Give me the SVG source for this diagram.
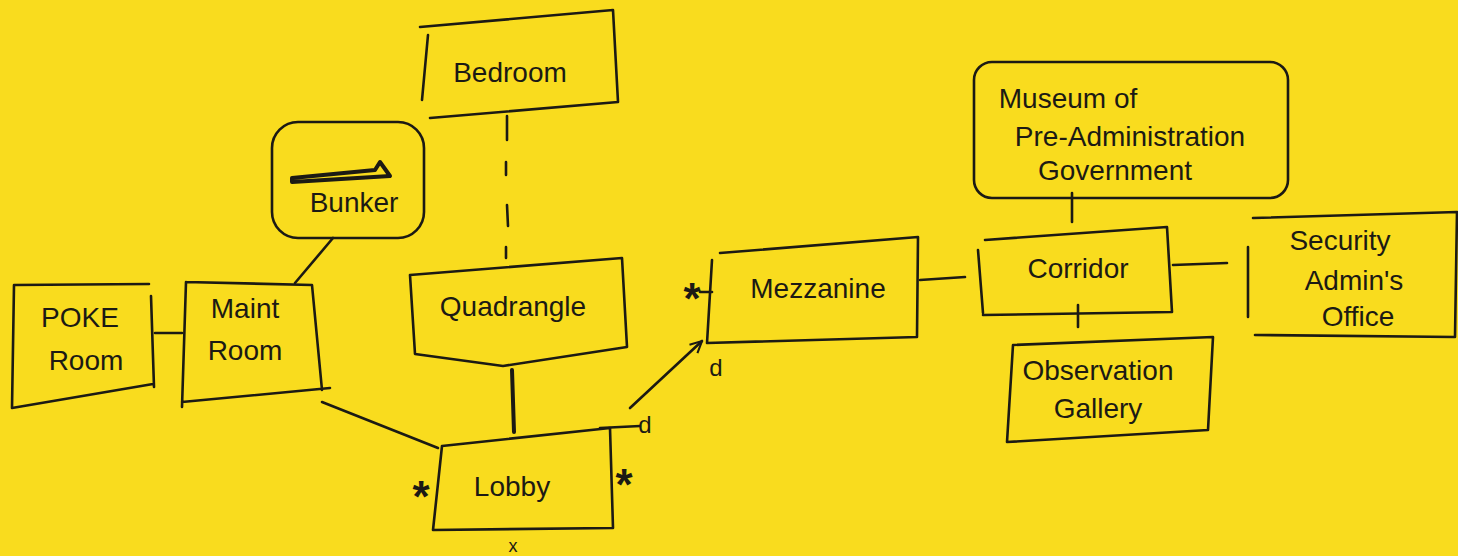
<svg xmlns="http://www.w3.org/2000/svg" width="1458" height="556" viewBox="0 0 1458 556">
<style>
.s{fill:none;stroke:#1c1a14;stroke-width:2.6;stroke-linecap:round;stroke-linejoin:round}
.t{font-family:"Liberation Sans",Arial,sans-serif;font-size:28px;fill:#1c1a14;text-anchor:middle}
.m{font-family:"Liberation Sans",Arial,sans-serif;font-size:44px;font-weight:bold;fill:#1c1a14;text-anchor:middle}
.l{font-family:"Liberation Sans",Arial,sans-serif;font-size:24px;fill:#1c1a14;text-anchor:middle}
</style>
<defs>
<marker id="ah" viewBox="0 0 12 12" refX="11" refY="6" markerWidth="14" markerHeight="14" markerUnits="userSpaceOnUse" orient="auto">
<path d="M1,1 L11,6 L1,11" fill="none" stroke="#1c1a14" stroke-width="1.8"/>
</marker>
</defs>
<rect width="1458" height="556" fill="#f9dc1e"/>

<g id="connectors">
<path class="s" d="M155,333 L182,333"/>
<path class="s" d="M333,238 L295,283"/>
<path class="s" d="M322,402 L438,448"/>
<path class="s" d="M507,116 L507,140 M506,162 L506,175 M507,205 L508,226 M506,247 L506,258"/>
<path class="s" style="stroke-width:4" d="M512,370 L514,432"/>
<path class="s" d="M630,408 L702,341" marker-end="url(#ah)"/>
<path class="s" d="M600,428 L640,426"/>
<path class="s" d="M920,280 L965,277"/>
<path class="s" d="M1072,193 L1072,222"/>
<path class="s" d="M1173,265 L1227,263"/>
<path class="s" d="M1078,305 L1078,327"/>
</g>

<g id="poke-room">
<path class="s" d="M14,285 L149,284 M151,296 L154,387 M12,408 L153,384 M14,285 L12,408"/>
<text class="t" x="80" y="327">POKE</text>
<text class="t" x="86" y="370">Room</text>
</g>

<g id="maint-room">
<path class="s" d="M186,282 L312,285 L322,390 M182,402 L330,388 M186,282 L182,407"/>
<text class="t" x="245" y="318">Maint</text>
<text class="t" x="245" y="360">Room</text>
</g>

<g id="bunker">
<rect class="s" x="272" y="122" width="152" height="116" rx="26"/>
<path class="s" style="stroke-width:4" d="M292,178 L375,170 L380,162 L390,176 L292,182 Z"/>
<text class="t" x="354" y="212">Bunker</text>
</g>

<g id="bedroom">
<path class="s" d="M420,27 L613,10 L618,102 L430,118 M428,35 L422,100"/>
<text class="t" x="510" y="82">Bedroom</text>
</g>

<g id="quadrangle">
<path class="s" d="M410,275 L622,258 L627,347 L503,366 L415,354 Z"/>
<text class="t" x="513" y="316">Quadrangle</text>
</g>

<g id="lobby">
<path class="s" d="M442,446 L610,428 L613,528 L433,530 Z"/>
<text class="t" x="512" y="496">Lobby</text>
<text class="m" x="421" y="512">*</text>
<text class="m" x="624" y="500">*</text>
<text class="l" x="645" y="433">d</text>
<text class="l" style="font-size:18px" x="513" y="552">x</text>
</g>

<g id="mezzanine">
<path class="s" d="M720,253 L918,237 L917,337 L707,343 M712,260 L707,343"/>
<path class="s" d="M700,292 L712,292"/>
<text class="m" x="692" y="314">*</text>
<text class="t" x="818" y="298">Mezzanine</text>
<text class="l" x="716" y="376">d</text>
</g>

<g id="corridor">
<path class="s" d="M985,240 L1167,227 L1172,312 L983,315 M978,250 L983,313"/>
<text class="t" x="1078" y="278">Corridor</text>
</g>

<g id="museum">
<rect class="s" x="974" y="62" width="314" height="136" rx="18"/>
<text class="t" x="1068" y="108">Museum of</text>
<text class="t" x="1130" y="146">Pre-Administration</text>
<text class="t" x="1115" y="180">Government</text>
</g>

<g id="security">
<path class="s" d="M1253,218 L1457,212 L1455,337 L1255,335 M1248,247 L1248,317"/>
<text class="t" x="1340" y="250">Security</text>
<text class="t" x="1354" y="290">Admin's</text>
<text class="t" x="1358" y="326">Office</text>
</g>

<g id="observation-gallery">
<path class="s" d="M1013,345 L1213,337 L1208,430 L1007,442 Z"/>
<text class="t" x="1098" y="380">Observation</text>
<text class="t" x="1098" y="418">Gallery</text>
</g>
</svg>
